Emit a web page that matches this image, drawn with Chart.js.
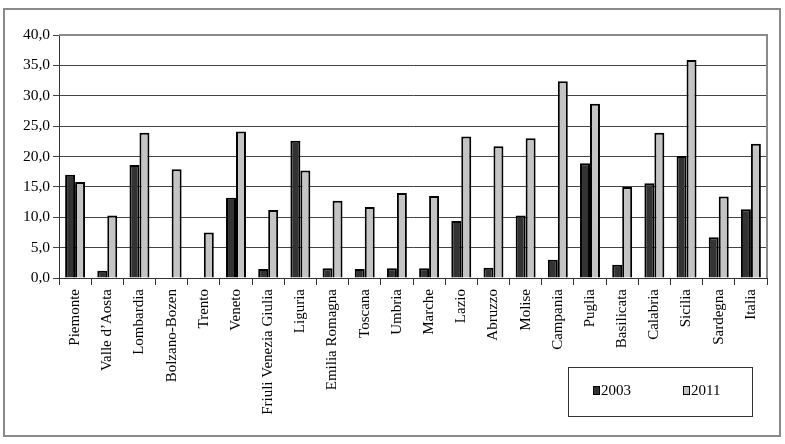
<!DOCTYPE html>
<html>
<head>
<meta charset="utf-8">
<script src="https://cdn.jsdelivr.net/npm/chart.js@4/dist/chart.umd.min.js"></script>
<style>
  html, body { margin: 0; padding: 0; background: #fff; }
  #wrap { width: 785px; height: 444px; }
</style>
</head>
<body>
<div id="wrap"><canvas id="myChart" width="785" height="444"></canvas></div>
<script>
const regions = ['Piemonte', 'Valle d\u2019Aosta', 'Lombardia', 'Bolzano-Bozen', 'Trento', 'Veneto',
  'Friuli Venezia Giulia', 'Liguria', 'Emilia Romagna', 'Toscana', 'Umbria', 'Marche', 'Lazio',
  'Abruzzo', 'Molise', 'Campania', 'Puglia', 'Basilicata', 'Calabria', 'Sicilia', 'Sardegna', 'Italia'];

const values2003 = [17.0, 1.2, 18.6, 0, 0, 13.2, 1.5, 22.6, 1.6, 1.5, 1.6, 1.6, 9.4,
  1.7, 10.3, 3.0, 18.9, 2.2, 15.6, 20.1, 6.7, 11.3];
const values2011 = [15.8, 10.3, 23.9, 17.9, 7.5, 24.1, 11.2, 17.7, 12.7, 11.7, 14.0, 13.5, 23.3,
  21.7, 23.0, 32.4, 28.7, 15.0, 23.9, 35.9, 13.4, 22.1];

const yTicks = [0, 5, 10, 15, 20, 25, 30, 35, 40];

const ctx = document.getElementById('myChart');
const serif = '"Liberation Serif", "DejaVu Serif", serif';

// outer frame, plot border and the boxed legend
const decor = {
  id: 'decor',
  beforeDraw(chart) {
    const c = chart.ctx;
    c.save();
    c.fillStyle = '#fff';
    c.fillRect(0, 0, chart.width, chart.height);
    c.strokeStyle = '#8a8a8a';
    c.lineWidth = 2;
    c.strokeRect(4, 9, 776, 427);
    c.restore();
  },
  afterDraw(chart) {
    const c = chart.ctx;
    const a = chart.chartArea;
    c.save();
    c.strokeStyle = '#8a8a8a';
    c.lineWidth = 2;
    c.beginPath();
    c.moveTo(a.left, a.top);
    c.lineTo(a.right, a.top);
    c.lineTo(a.right, a.bottom);
    c.stroke();

    // legend
    c.strokeStyle = '#333';
    c.lineWidth = 1;
    c.strokeRect(568.5, 367.5, 184, 49);
    c.font = '15px ' + serif;
    c.textBaseline = 'middle';
    const items = [[593, chart.data.datasets[0]], [683, chart.data.datasets[1]]];
    items.forEach(([x, ds]) => {
      c.fillStyle = ds.backgroundColor;
      c.fillRect(x, 386, 7, 9);
      c.strokeStyle = '#000';
      c.strokeRect(x + 0.5, 386.5, 6, 8);
      c.fillStyle = '#000';
      c.fillText(ds.label, x + 8, 391);
    });
    c.restore();
  }
};

new Chart(ctx, {
  type: 'bar',
  data: {
    labels: regions,
    datasets: [{
      label: '2003',
      data: values2003,
      backgroundColor: '#333333',
      borderColor: '#000',
      borderWidth: 2,
      borderSkipped: 'bottom'
    }, {
      label: '2011',
      data: values2011,
      backgroundColor: '#c4c4c4',
      borderColor: '#000',
      borderWidth: 2,
      borderSkipped: 'bottom'
    }]
  },
  options: {
    responsive: false,
    animation: false,
    events: [],
    layout: { padding: { left: 0, top: 35, right: 18, bottom: 0 } },
    datasets: { bar: { categoryPercentage: 0.62, barPercentage: 1.0 } },
    plugins: { legend: { display: false }, tooltip: { enabled: false } },
    scales: {
      x: {
        afterFit: s => { s.height = 166; },
        grid: { display: true, offset: true, drawOnChartArea: false, drawTicks: true, tickLength: 7, color: '#333' },
        border: { display: true, color: '#333', width: 1 },
        ticks: {
          minRotation: 90, maxRotation: 90, autoSkip: false, padding: 4,
          color: '#000', font: { family: serif, size: 15 }
        }
      },
      y: {
        min: 0, max: 40,
        afterFit: s => { s.width = 59; },
        afterBuildTicks: s => { s.ticks = yTicks.map(v => ({ value: v })); },
        grid: { color: '#444', lineWidth: 1, drawTicks: true, tickLength: 6 },
        border: { display: true, color: '#333', width: 1 },
        ticks: {
          padding: 3, color: '#000', font: { family: serif, size: 15.5 },
          callback: v => v.toFixed(1).replace('.', ',')
        }
      }
    }
  },
  plugins: [decor]
});
</script>
</body>
</html>
